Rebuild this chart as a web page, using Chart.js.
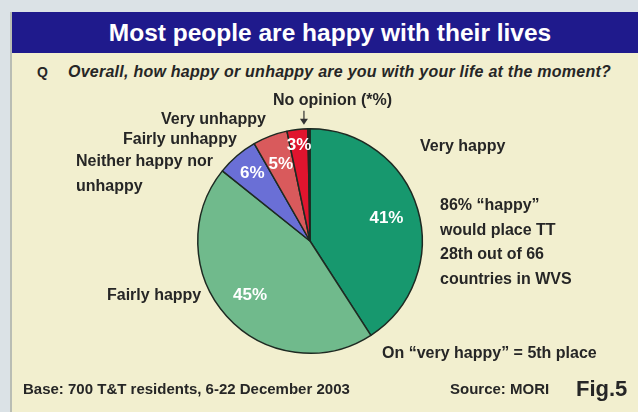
<!DOCTYPE html>
<html>
<head>
<meta charset="utf-8">
<script src="https://cdn.jsdelivr.net/npm/chart.js@4.4.1/dist/chart.umd.min.js"></script>
<style>
  html, body { margin: 0; padding: 0; }
  body { width: 638px; height: 412px; background: #dbe2e6; position: relative; overflow: hidden; font-family: "Liberation Sans", Arial, sans-serif; }
  #panel { position: absolute; left: 12px; top: 12px; width: 626px; height: 400px; background: #f2efcf; box-shadow: -2px 0 0 #b9bdb4; }
  #titlebar { position: absolute; left: 12px; top: 12px; width: 626px; height: 41px; background: #1f1a8c; }
  #title { position: absolute; left: 0; top: 12px; width: 660px; height: 41px; line-height: 41px; text-align: center; color: #fff; font-weight: bold; font-size: 24.5px; }
  canvas#c { position: absolute; left: 0; top: 0; }
  .t { position: absolute; color: #262626; white-space: nowrap; font-weight: bold; }
  #q { left: 37px; top: 64px; font-size: 14px; }
  #question { left: 68px; top: 63px; font-size: 16px; font-style: italic; letter-spacing: 0.25px; }
  #note { left: 440px; top: 193px; font-size: 16px; line-height: 24.5px; }
  #place { left: 382px; top: 344px; font-size: 16px; }
  #base { left: 23px; top: 380px; font-size: 15px; }
  #source { left: 450px; top: 380px; font-size: 15px; }
  #fig { left: 576px; top: 376px; font-size: 22px; font-weight: bold; }
</style>
</head>
<body>
<div id="panel"></div>
<div id="titlebar"></div>
<div id="title">Most people are happy with their lives</div>
<div class="t" id="q">Q</div>
<div class="t" id="question">Overall, how happy or unhappy are you with your life at the moment?</div>
<canvas id="c" width="638" height="412"></canvas>
<div class="t" id="note">86% “happy”<br>would place TT<br>28th out of 66<br>countries in WVS</div>
<div class="t" id="place">On “very happy” = 5th place</div>
<div class="t" id="base">Base: 700 T&amp;T residents, 6-22 December 2003</div>
<div class="t" id="source">Source: MORI</div>
<div class="t" id="fig">Fig.5</div>
<script>
// ---- data ----
const categories = ["Very happy", "Fairly happy", "Neither happy nor unhappy", "Fairly unhappy", "Very unhappy", "No opinion (*%)"];
const displayLabels = [["Very happy"], ["Fairly happy"], ["Neither happy nor", "unhappy"], ["Fairly unhappy"], ["Very unhappy"], ["No opinion (*%)"]];
const percentValues = [41, 45, 6, 5, 3, 0.3];
const percentLabels = ["41%", "45%", "6%", "5%", "3%", ""];
const sliceColors = ["#17986e", "#70ba8c", "#6a6fd6", "#d95a5c", "#e0142e", "#2a2a2a"];

// layout of text (styling only)
const labelRadius = [0.71, 0.72, 0.79, 0.73, 0.86, 0];
const outerLabelPos = [
  {x: 420, y: 147}, {x: 107, y: 296}, {x: 76, y: 162, lh: 25}, {x: 123, y: 140}, {x: 161, y: 120}, {x: 273, y: 101}
];

const labelPlugin = {
  id: 'sliceLabels',
  afterDatasetsDraw(chart) {
    const ctx = chart.ctx;
    const meta = chart.getDatasetMeta(0);
    ctx.save();
    // percent labels inside slices
    ctx.font = 'bold 17px "Liberation Sans", Arial, sans-serif';
    ctx.fillStyle = '#ffffff';
    ctx.textAlign = 'center';
    ctx.textBaseline = 'middle';
    meta.data.forEach((arc, i) => {
      const txt = percentLabels[i];
      if (!txt) return;
      const p = arc.getProps(['x', 'y', 'startAngle', 'endAngle', 'outerRadius'], true);
      const a = (p.startAngle + p.endAngle) / 2;
      const r = p.outerRadius * labelRadius[i];
      ctx.fillText(txt, p.x + Math.cos(a) * r, p.y + Math.sin(a) * r);
    });
    // outer category labels
    ctx.font = 'bold 16px "Liberation Sans", Arial, sans-serif';
    ctx.fillStyle = '#262626';
    ctx.textAlign = 'left';
    displayLabels.forEach((lines, i) => {
      const pos = outerLabelPos[i];
      lines.forEach((ln, k) => ctx.fillText(ln, pos.x, pos.y + k * (pos.lh || 20)));
    });
    // arrow for "No opinion"
    const last = meta.data[meta.data.length - 1].getProps(['x', 'y', 'startAngle', 'endAngle', 'outerRadius'], true);
    const am = (last.startAngle + last.endAngle) / 2;
    const ax = last.x + Math.cos(am) * last.outerRadius - 5;
    const ay = last.y + Math.sin(am) * last.outerRadius - 4;
    ctx.strokeStyle = '#333';
    ctx.fillStyle = '#333';
    ctx.lineWidth = 1.2;
    ctx.beginPath();
    ctx.moveTo(ax, ay - 14);
    ctx.lineTo(ax, ay - 4);
    ctx.stroke();
    ctx.beginPath();
    ctx.moveTo(ax - 4, ay - 6);
    ctx.lineTo(ax + 4, ay - 6);
    ctx.lineTo(ax, ay);
    ctx.closePath();
    ctx.fill();
    ctx.restore();
  }
};

new Chart(document.getElementById('c'), {
  type: 'pie',
  data: {
    labels: categories,
    datasets: [{
      data: percentValues,
      backgroundColor: sliceColors,
      borderColor: '#1d2a22',
      borderWidth: 1.5
    }]
  },
  options: {
    responsive: false,
    animation: false,
    layout: { padding: { top: 128, bottom: 58, left: 197, right: 215 } },
    plugins: {
      legend: { display: false },
      tooltip: { enabled: false }
    }
  },
  plugins: [labelPlugin]
});
</script>
</body>
</html>
